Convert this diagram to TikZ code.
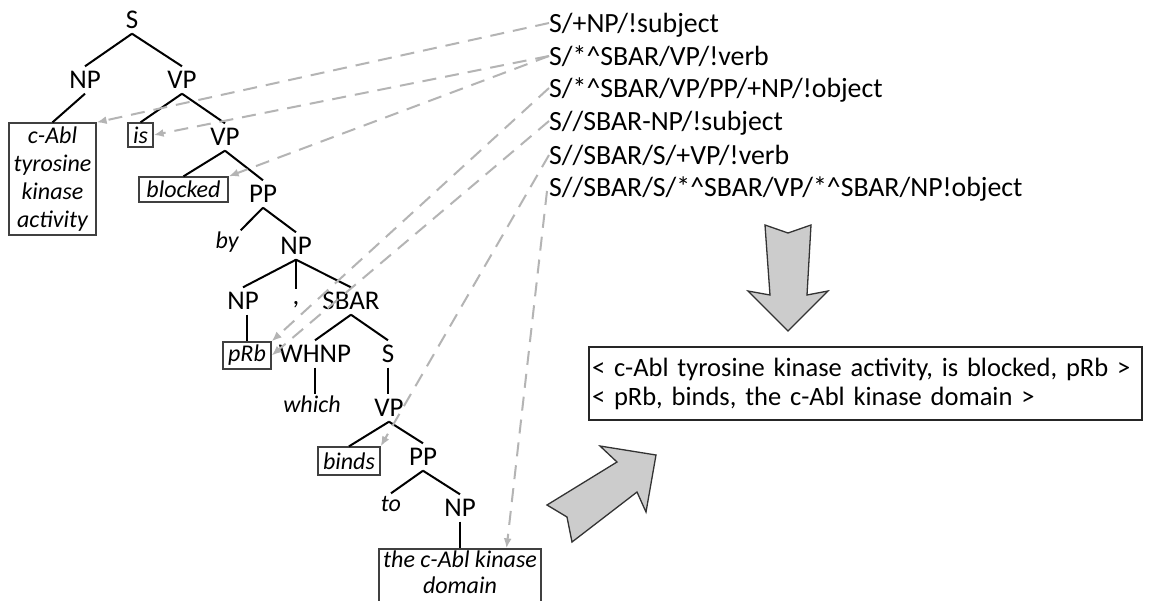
\documentclass[tikz,border=0pt]{standalone}
\usepackage{fontspec}
\setmainfont{Carlito}
\usetikzlibrary{arrows.meta,calc}
\definecolor{dashc}{HTML}{B4B4B4}
\definecolor{boxc}{HTML}{404040}
\definecolor{arrc}{HTML}{CCCCCC}
\begin{document}
\begin{tikzpicture}[x=1pt,y=-1pt,
  lab/.style={font=\fontsize{27}{30}\selectfont, text height=17pt, text depth=0pt, inner xsep=1pt, inner ysep=5pt},
  commast/.style={font=\fontsize{27}{30}\selectfont, text height=6pt, text depth=4pt, inner xsep=0pt, inner ysep=9pt},
  leaf/.style={draw=boxc, line width=1.3pt, font=\fontsize{24}{28}\selectfont\itshape, inner xsep=2pt, inner ysep=1pt, align=center},
  word/.style={font=\fontsize{24}{28}\selectfont\itshape, text height=16pt, text depth=5pt, inner sep=2pt},
  tl/.style={line width=2pt, black},
  dl/.style={draw=dashc, line width=2pt, dash pattern=on 14pt off 9pt, -{Latex[length=10pt,width=8pt,fill=dashc]}},
  rule/.style={font=\fontsize{27.8}{30}\selectfont, text height=18pt, text depth=0pt, anchor=west, inner sep=0pt},
  resbox/.style={draw=black!85, line width=1.5pt, font=\fontsize{26.5}{29}\selectfont, align=left, text width=547pt, minimum height=73pt, inner xsep=3pt},
  bigarrow/.style={fill=arrc, draw=black!80, line width=1.3pt, line join=miter}
]
\fill[white] (0,0) rectangle (1149,600);
\useasboundingbox (0,0) rectangle (1149,600);

% tree nodes
\node[lab] (s0) at (132,20) {S};
\node[lab] (np1) at (85,80) {NP};
\node[lab] (vp1) at (182,80) {VP};
\node[leaf, minimum width=87pt, minimum height=112pt] (cabl) at (52.5,179) {c-Abl\\tyrosine\\kinase\\activity};
\node[leaf, minimum width=25pt, minimum height=24pt] (wis) at (140.5,135) {is};
\node[lab] (vp2) at (225,137) {VP};
\node[leaf, minimum width=89pt, minimum height=25pt] (blocked) at (183.5,189.5) {blocked};
\node[lab] (pp1) at (263,194) {PP};
\node[word] (wby) at (227,243) {by};
\node[lab] (np2) at (296,246) {NP};
\node[lab] (np3) at (243,301) {NP};
\node[commast] (comma) at (296,303) {,};
\node[lab] (sbar) at (351,301) {SBAR};
\node[leaf, minimum width=48pt, minimum height=27pt] (prb) at (247,355.5) {pRb};
\node[lab] (whnp) at (315,354) {WHNP};
\node[lab] (s2) at (388,354) {S};
\node[word] (which) at (312,407) {which};
\node[lab] (vp3) at (389,408) {VP};
\node[leaf, minimum width=62pt, minimum height=28pt] (binds) at (349,461) {binds};
\node[lab] (pp2) at (423,457) {PP};
\node[word] (wto) at (391,506) {to};
\node[lab] (np4) at (460,508) {NP};
\node[leaf, font=\fontsize{24}{26}\selectfont\itshape, minimum width=162pt, minimum height=60pt] (domain) at (460,579) {the c-Abl kinase\\domain\rule[-14pt]{0pt}{14pt}};

% tree edges
\draw[tl] (s0.south) -- (np1.north);
\draw[tl] (s0.south) -- (vp1.north);
\draw[tl] (np1.south) -- (cabl.north);
\draw[tl] (vp1.south) -- (wis.north);
\draw[tl] (vp1.south) -- (vp2.north);
\draw[tl] (vp2.south) -- (blocked.north);
\draw[tl] (vp2.south) -- (pp1.north);
\draw[tl] (pp1.south) -- (wby.north east);
\draw[tl] (pp1.south) -- (np2.north);
\draw[tl] (np2.south) -- (np3.north);
\draw[tl] (np2.south) -- (comma.north);
\draw[tl] (np2.south) -- (sbar.north);
\draw[tl] (prb.north |- np3.south) -- (prb.north);
\draw[tl] (sbar.south) -- (whnp.north);
\draw[tl] (sbar.south) -- (s2.north);
\draw[tl] (whnp.south) -- (whnp.south |- which.north);
\draw[tl] (s2.south) -- (s2.south |- vp3.north);
\draw[tl] (vp3.south) -- (binds.north);
\draw[tl] (vp3.south) -- (pp2.north);
\draw[tl] (pp2.south) -- (wto.north);
\draw[tl] (pp2.south) -- (np4.north);
\draw[tl] (np4.south) -- (domain.north);

% rules
\node[rule] (r1) at (549,23) {S/+NP/!subject};
\node[rule] (r2) at (549,56) {S/*\textasciicircum SBAR/VP/!verb};
\node[rule] (r3) at (549,88) {S/*\textasciicircum SBAR/VP/PP/+NP/!object};
\node[rule] (r4) at (549,121) {S//SBAR-NP/!subject};
\node[rule] (r5) at (549,155) {S//SBAR/S/+VP/!verb};
\node[rule] (r6) at (549,187) {S//SBAR/S/*\textasciicircum SBAR/VP/*\textasciicircum SBAR/NP!object};

% dashed connectors
\draw[dl] (r1.west) -- (cabl.north east);
\draw[dl] (r2.west) -- (wis.east);
\draw[dl] (r2.west) -- (blocked.north east);
\draw[dl] (r3.west) -- (prb.north east);
\draw[dl] (r4.west) -- (prb.east);
\draw[dl] (r5.west) -- (binds.north east);
\draw[dl] ($(r6.west)+(-2,4)$) -- ($(domain.north)!0.57!(domain.north east)$);

% result
\node[resbox] (res) at (865.5,383.5) {\mbox{< c-Abl tyrosine kinase activity, is blocked, pRb >}\\\mbox{< pRb, binds, the c-Abl kinase domain >}};

% big arrows
\draw[bigarrow] (765,225) -- (788,233) -- (811,225) -- (807,295) -- (828,291) -- (788,331) -- (748,291) -- (770,295) -- cycle;
\draw[bigarrow] (547,505) -- (617,462) -- (600,446) -- (656,455) -- (646,512) -- (637,492) -- (572,542) -- (567,517) -- cycle;
\end{tikzpicture}
\end{document}
